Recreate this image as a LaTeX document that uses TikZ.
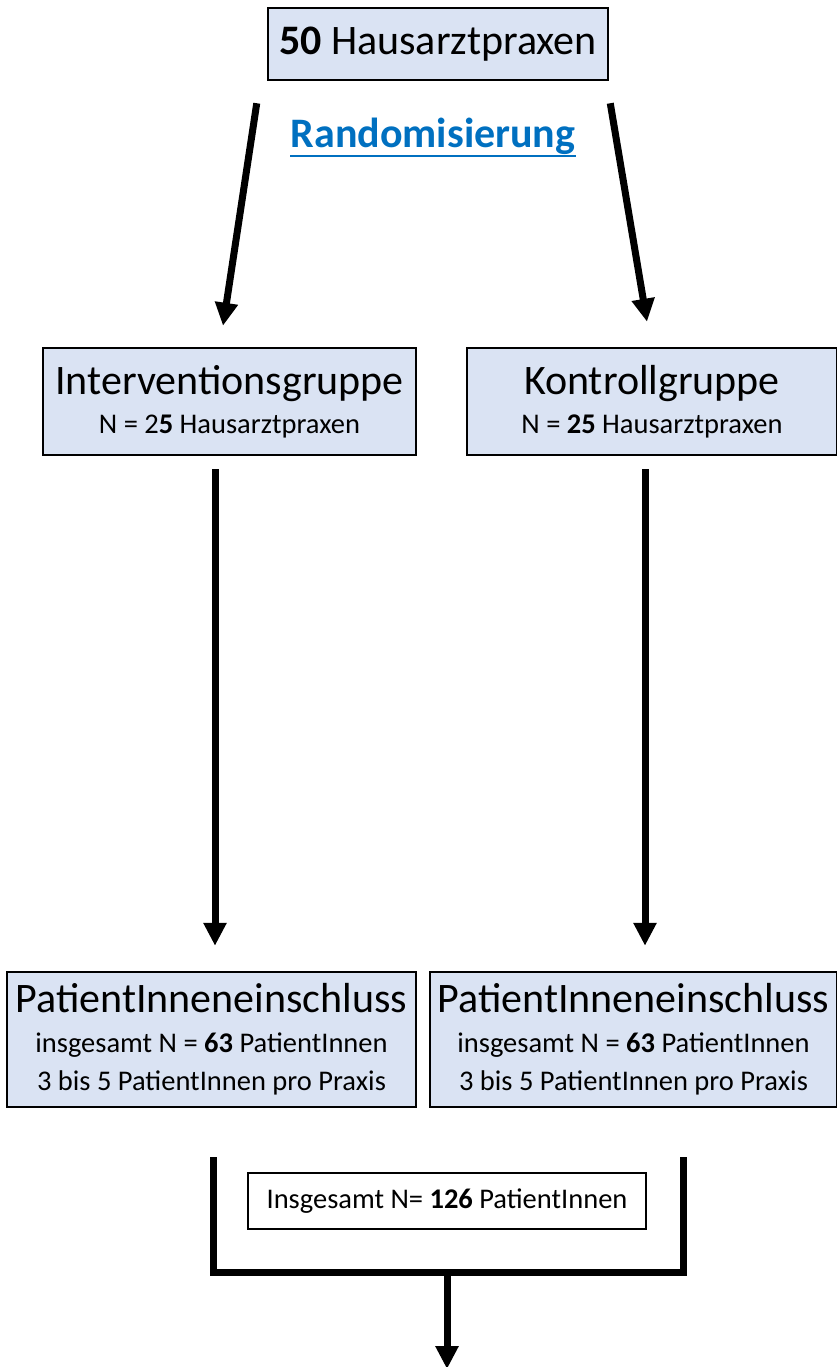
\documentclass[tikz,border=0pt]{standalone}
\usepackage{fontspec}
\setmainfont{Carlito}
\usetikzlibrary{arrows.meta}
\definecolor{boxblue}{RGB}{218,227,243}
\definecolor{linkblue}{RGB}{0,112,192}
\newcommand{\bigtxt}{\fontsize{42}{46}\selectfont}
\newcommand{\smalltxt}{\fontsize{28.5}{36}\selectfont}
\begin{document}
\begin{tikzpicture}[x=1pt,y=-1pt,
    bluebox/.style={draw=black,line width=2.5pt,fill=boxblue,align=center,inner sep=0pt},
    thickarrow/.style={line width=7pt,-{Triangle[length=23pt,width=22pt]}}]
                \useasboundingbox (0,0) rectangle (837,1367);
                \node[bluebox,minimum width=340pt,minimum height=72pt,font=\bigtxt] (praxen) at (438,44) {\textbf{50} Hausarztpraxen};
                \node[text=linkblue,font=\bigtxt\bfseries,inner sep=0pt] (rand) at (433,136) {Randomisierung};
                \draw[linkblue,line width=2.5pt] ([yshift=-9pt]rand.base west) -- ([yshift=-9pt]rand.base east);
                \node[bluebox,minimum width=373pt,minimum height=107pt] (interv) at (229.5,401.5) {\bigtxt Interventionsgruppe\\[12pt]\smalltxt N = 2\textbf{5} Hausarztpraxen};
                \node[bluebox,minimum width=370pt,minimum height=107pt] (kontr) at (652,401.5) {\bigtxt Kontrollgruppe\\[12pt]\smalltxt N = \textbf{25} Hausarztpraxen};
                \node[bluebox,minimum width=409pt,minimum height=135pt] (patl) at (211.5,1039.5) {\bigtxt PatientInneneinschluss\\[19pt]\smalltxt insgesamt N = \textbf{63} PatientInnen\\[12pt]\smalltxt 3 bis 5 PatientInnen pro Praxis};
                \node[bluebox,minimum width=407pt,minimum height=135pt] (patr) at (633.5,1039.5) {\bigtxt PatientInneneinschluss\\[19pt]\smalltxt insgesamt N = \textbf{63} PatientInnen\\[12pt]\smalltxt 3 bis 5 PatientInnen pro Praxis};
                \draw[thickarrow] ([xshift=-10pt,yshift=-22pt]praxen.south west) -- ([xshift=-6.5pt,yshift=21pt]interv.north);
                \draw[thickarrow] ([xshift=1pt,yshift=-22pt]praxen.south east) -- ([xshift=-5pt,yshift=25pt]kontr.north);
                \draw[thickarrow] ([xshift=-14.5pt,yshift=-13pt]interv.south) -- ([xshift=3.5pt,yshift=25pt]patl.north);
                \draw[thickarrow] ([xshift=-7pt,yshift=-13pt]kontr.south) -- ([xshift=11.5pt,yshift=25pt]patr.north);
                \coordinate (brl) at (213,1157);
                \coordinate (brr) at (683,1157);
                \coordinate (brbot) at (447,1272);
                \coordinate (out) at (447,1369);
                \draw[line width=7pt] (brl) |- (brr |- brbot) -- (brr);
                \node[draw=black,line width=1.5pt,fill=white,minimum width=398pt,minimum height=56pt,inner sep=0pt,font=\smalltxt] (total) at (447,1201) {Insgesamt N= \textbf{126} PatientInnen};
                \draw[thickarrow] (brbot) -- (out);
            \end{tikzpicture}
\end{document}
